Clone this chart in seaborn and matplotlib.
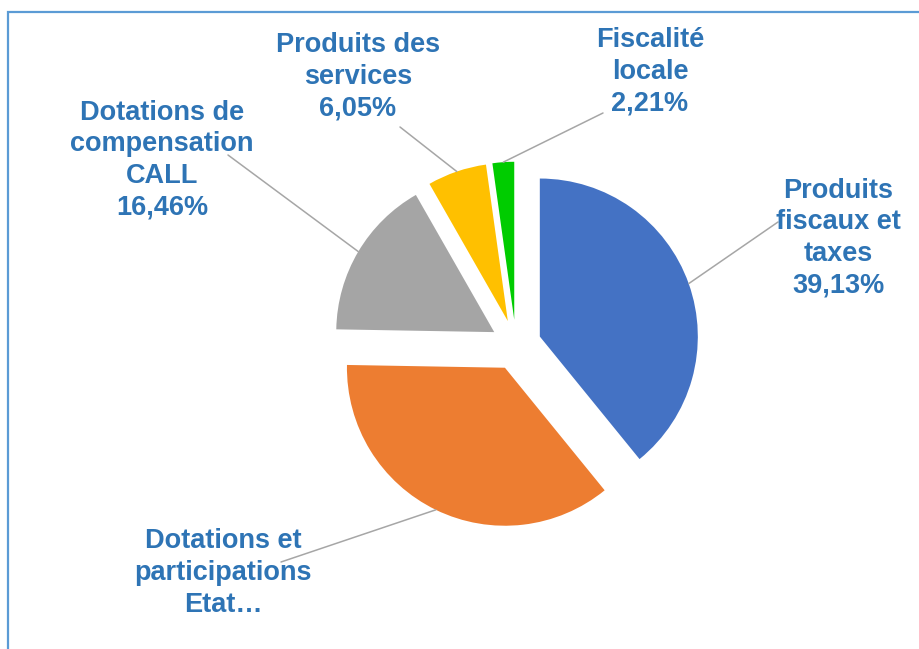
import numpy as np
import matplotlib.pyplot as plt
import seaborn as sns
from matplotlib.patches import Rectangle

# slices, clockwise from 12 o'clock
categories = ["Produits\nfiscaux et\ntaxes", "Dotations et\nparticipations\nEtat…",
              "Dotations de\ncompensation\nCALL", "Produits des\nservices", "Fiscalité\nlocale"]
values = [39.13, 36.15, 16.46, 6.05, 2.21]
show_pct = [True, False, True, True, True]
colors = ["#4472C4", "#ED7D31", "#A5A5A5", "#FFC000", "#00CC00"]

# label centres and leader start points (pixels, y down)
label_xy = [(838, 238), (223, 573), (162, 160), (358, 77), (650, 72)]
leader_xy = [(778, 222), (281, 562), (228, 155), (400, 127), (603, 113)]

sns.set_theme(style="white")
plt.rcParams['font.family'] = ['Liberation Sans', 'DejaVu Sans']

W, H = 920, 649
fig = plt.figure(figsize=(W / 100, H / 100), dpi=100)
ax = fig.add_axes([0, 0, 1, 1])
ax.set_xlim(0, W)
ax.set_ylim(0, H)
ax.set_aspect('equal')
ax.axis('off')

R = 158
wedges, _ = ax.pie(values, colors=colors, startangle=90, counterclock=False,
                   explode=[0.16 * R] * len(values), radius=R, center=(516, H - 345),
                   wedgeprops=dict(linewidth=0))
ax.set_xlim(0, W)
ax.set_ylim(0, H)

txt_color = "#2E74B5"
for w, cat, v, sp, (lx, ly), (sx, sy) in zip(wedges, categories, values, show_pct,
                                              label_xy, leader_xy):
    mid = np.deg2rad((w.theta1 + w.theta2) / 2)
    ex = w.center[0] + w.r * np.cos(mid)
    ey = w.center[1] + w.r * np.sin(mid)
    ax.plot([sx, ex], [H - sy, ey], color="#A6A6A6", lw=1.1, zorder=1)
    label = cat + ("\n" + f"{v:.2f}".replace('.', ',') + "%" if sp else "")
    ax.text(lx, H - ly, label, ha='center', va='center', fontsize=19.5,
            fontweight='bold', color=txt_color, linespacing=1.28, zorder=3)

fig.patches.append(Rectangle((8 / W, -0.1), 1.2, (H - 12) / H + 0.1,
                             transform=fig.transFigure, fill=False,
                             edgecolor="#5B9BD5", lw=1.6))

fig.savefig("out.png", dpi=100, facecolor="white")
